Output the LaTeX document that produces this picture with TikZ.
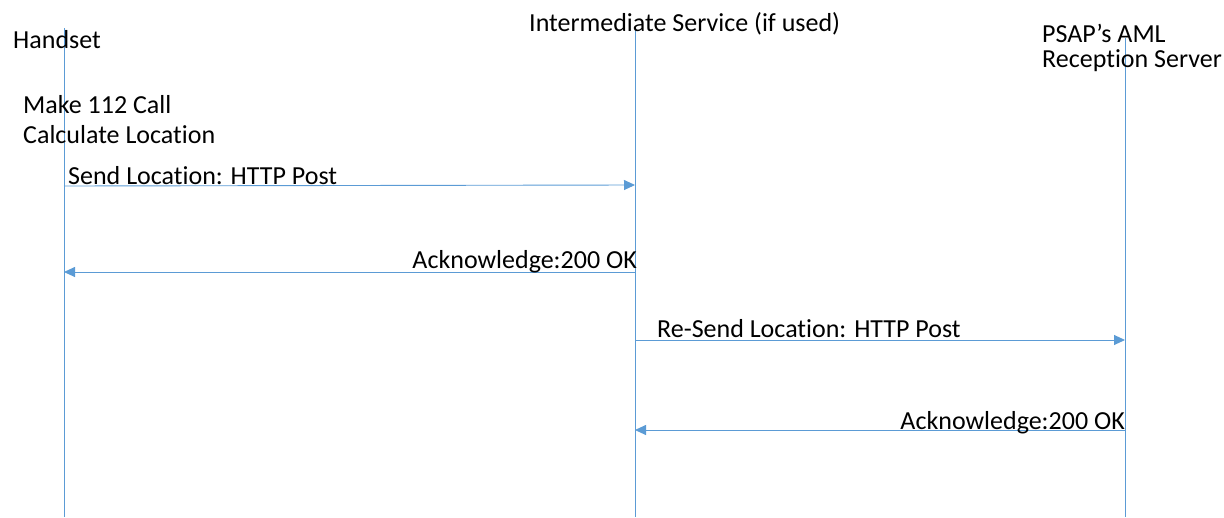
\documentclass[tikz,border=0pt]{standalone}
\usepackage{fontspec}
\setmainfont[Ligatures=NoCommon]{Carlito}
\usetikzlibrary{arrows.meta}
\definecolor{lineblue}{RGB}{91,155,213}
\begin{document}
\begin{tikzpicture}[x=1pt,y=-1pt,
  lifeline/.style={draw=lineblue,line width=0.9pt},
  msg/.style={draw=lineblue,line width=0.9pt,-{Triangle[length=11pt,width=10pt]}},
  lbl/.style={font=\fontsize{26}{30}\selectfont,inner sep=0pt,text=black}]
\useasboundingbox (0,0) rectangle (1224,517);
% lifelines
\coordinate (hTop) at (64,28);   \coordinate (hBot) at (64,517);
\coordinate (iTop) at (635,30);  \coordinate (iBot) at (635,517);
\coordinate (pTop) at (1125,38); \coordinate (pBot) at (1125,517);
\draw[lifeline] (hTop) -- (hBot);
\draw[lifeline] (iTop) -- (iBot);
\draw[lifeline] (pTop) -- (pBot);
% headers
\node[lbl,anchor=base west] (handset) at (13,48) {Handset};
\node[lbl,anchor=base west] (inter) at (529,31) {Intermediate Service (if used)};
\node[lbl,anchor=base west] (psap1) at (1042,42) {PSAP’s AML};
\node[lbl,anchor=base west] (psap2) at (1042,67) {Reception Server};
\node[lbl,anchor=base west] (make) at (23,113) {Make 112 Call};
\node[lbl,anchor=base west] (calc) at (23,143) {Calculate Location};
% messages
\coordinate (m1s) at (64,186);  \coordinate (m1e) at (635,185);
\coordinate (m2s) at (635,272); \coordinate (m2e) at (64,272);
\coordinate (m3s) at (635,340); \coordinate (m3e) at (1125,340);
\coordinate (m4s) at (1125,430);\coordinate (m4e) at (635,430);
\draw[msg] (m1s) -- (m1e);
\draw[msg] (m2s) -- (m2e);
\draw[msg] (m3s) -- (m3e);
\draw[msg] (m4s) -- (m4e);
\node[lbl,anchor=base west] (l1) at (68,184) {Send Location: HTTP Post};
\node[lbl,anchor=base east] (l2) at (637,268) {Acknowledge:200 OK};
\node[lbl,anchor=base west] (l3) at (657,337) {Re-Send Location: HTTP Post};
\node[lbl,anchor=base east] (l4) at (1125,429) {Acknowledge:200 OK};
\end{tikzpicture}
\end{document}
